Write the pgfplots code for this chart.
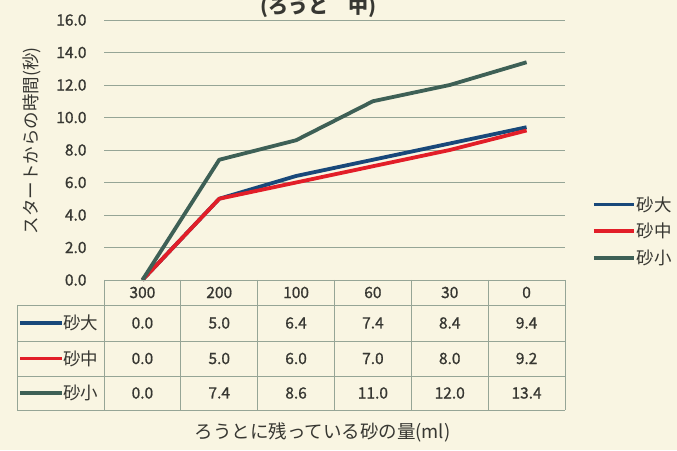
\documentclass[border=0pt]{standalone}
\usepackage{fontspec}
\setmainfont{Noto Sans CJK JP}
\newfontfamily\medfont{Noto Sans CJK JP}[FakeBold=1]
\usepackage{pgfplots}
\pgfplotsset{compat=1.18}

\definecolor{bgc}{RGB}{249,245,226}
\definecolor{gridc}{RGB}{150,165,150}
\definecolor{sdai}{RGB}{24,72,122}
\definecolor{schu}{RGB}{226,30,40}
\definecolor{ssho}{RGB}{62,96,86}
\definecolor{txt}{RGB}{55,55,50}

\newcommand{\numfont}{\medfont\fontsize{15.5}{18}\selectfont}
\newcommand{\jpfont}{\fontsize{17.5}{20}\selectfont}

\begin{document}
\begin{tikzpicture}[x=1pt,y=1pt]
\fill[bgc] (0,0) rectangle (677,450);

\begin{axis}[
    at={(104pt,170pt)}, anchor=south west,
    scale only axis, width=461pt, height=260pt,
    xmin=-0.5, xmax=5.5, ymin=0, ymax=16,
    ytick={0,2,...,16}, xtick=\empty,
    axis line style={draw=none},
    major tick length=0pt,
    ymajorgrids,
    grid style={gridc, line width=0.8pt},
    yticklabel style={font=\numfont, text=txt, xshift=-14pt,
        /pgf/number format/.cd, fixed, fixed zerofill, precision=1,
        assume math mode=true},
    clip=false,
    legend style={at={(1.058,0.188)}, anchor=west, draw=none, fill=none,
        font=\jpfont, text=txt, row sep=6.5pt, inner sep=0pt,
        nodes={inner xsep=1pt}},
    legend cell align=left,
    legend image code/.code={\draw[#1] (0pt,0pt) -- (40pt,0pt);},
]
\addplot[sdai, line width=3.8pt, line join=round] coordinates {
    (0,0.0) (1,5.0) (2,6.4) (3,7.4) (4,8.4) (5,9.4)};
\addplot[schu, line width=3.8pt, line join=round] coordinates {
    (0,0.0) (1,5.0) (2,6.0) (3,7.0) (4,8.0) (5,9.2)};
\addplot[ssho, line width=3.8pt, line join=round] coordinates {
    (0,0.0) (1,7.4) (2,8.6) (3,11.0) (4,12.0) (5,13.4)};
\legend{砂大,砂中,砂小}
\end{axis}

% data table under the plot
\begin{scope}[gridc, line width=0.8pt]
  \draw (104,170) -- (565,170);
  \foreach \y in {145,109,74,40} \draw (17,\y) -- (565,\y);
  \draw (17,145) -- (17,40);
  \foreach \k in {0,...,6} \draw ({104+76.83*\k},170) -- ({104+76.83*\k},40);
\end{scope}

\foreach \lab [count=\i from 0] in {300,200,100,60,30,0}
  \node[font=\numfont, text=txt] at ({104+76.83*(\i+0.5)},157.5) {\lab};

\foreach \v [count=\i from 0] in {0.0,5.0,6.4,7.4,8.4,9.4}
  \node[font=\numfont, text=txt] at ({104+76.83*(\i+0.5)},127) {\v};
\foreach \v [count=\i from 0] in {0.0,5.0,6.0,7.0,8.0,9.2}
  \node[font=\numfont, text=txt] at ({104+76.83*(\i+0.5)},91.5) {\v};
\foreach \v [count=\i from 0] in {0.0,7.4,8.6,11.0,12.0,13.4}
  \node[font=\numfont, text=txt] at ({104+76.83*(\i+0.5)},57) {\v};

\foreach \c/\n/\y in {sdai/砂大/127, schu/砂中/91.5, ssho/砂小/57} {
  \draw[\c, line width=3.8pt] (20,\y) -- (62,\y);
  \node[anchor=west, inner xsep=1pt, font=\jpfont, text=txt] at (62,\y) {\n};
}

\node[rotate=90, font=\jpfont, text=txt] at (32,309) {スタートからの時間(秒)};
\node[font=\fontsize{18.5}{22}\selectfont, text=txt] at (322.5,18) {ろうとに残っている砂の量(ml)};
\node[anchor=base, font=\fontsize{20}{24}\selectfont\bfseries, text=txt] at (318,436) {(ろうと　中)};

\pgfresetboundingbox
\path[use as bounding box] (0,0) rectangle (677,450);
\end{tikzpicture}
\end{document}
